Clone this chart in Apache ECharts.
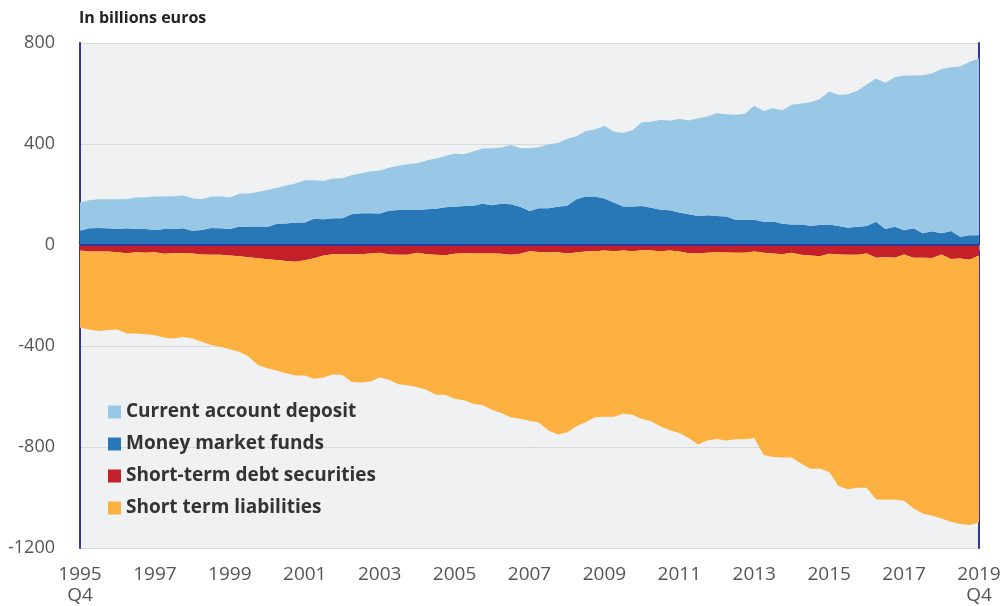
<!DOCTYPE html>
<html>
<head>
<meta charset="utf-8">
<script src="https://cdn.jsdelivr.net/npm/echarts@6/dist/echarts.min.js"></script>
<style>
  html, body { margin: 0; padding: 0; background: #fff; }
  #main { width: 1005px; height: 606px; }
</style>
</head>
<body>
<div id="main"></div>
<script>
// quarters 1995Q4 .. 2019Q4
var quarters = [];
for (var y = 1995; y <= 2019; y++) {
  for (var q = 1; q <= 4; q++) {
    if (y === 1995 && q < 4) continue;
    quarters.push(y + 'Q' + q);
  }
}

// assets (positive side)
var moneyMarketFunds = [
  56, 66, 67, 66, 63, 66, 63, 63, 59, 63, 63, 66, 56, 59, 67, 66, 63, 73, 71, 71,
  71, 84, 85, 89, 89, 104, 102, 106, 106, 122, 126, 126, 125, 136, 139, 139, 139, 142, 144, 150,
  151, 154, 155, 163, 157, 163, 161, 151, 135, 146, 146, 151, 155, 181, 192, 192, 184, 168, 152, 152,
  154, 148, 140, 138, 129, 122, 115, 118, 115, 113, 100, 100, 100, 92, 93, 84, 81, 81, 76, 79,
  81, 75, 68, 72, 75, 92, 63, 72, 58, 66, 47, 54, 47, 55, 33, 39, 39
];
var currentAccount = [
  112, 111, 114, 115, 118, 116, 125, 126, 133, 129, 130, 130, 129, 122, 125, 126, 125, 130, 133, 139,
  147, 142, 151, 155, 167, 152, 151, 157, 158, 154, 158, 165, 170, 170, 175, 181, 185, 193, 199, 202,
  211, 205, 215, 219, 226, 223, 235, 233, 248, 241, 252, 253, 265, 250, 259, 265, 288, 281, 292, 302,
  332, 340, 356, 354, 371, 371, 387, 391, 407, 405, 416, 420, 451, 439, 449, 450, 474, 479, 489, 499,
  527, 519, 529, 539, 561, 567, 580, 592, 613, 605, 625, 626, 649, 649, 674, 687, 700
];

// liabilities (negative side)
var debtSecurities = [
  -22, -26, -26, -26, -29, -33, -29, -31, -29, -35, -33, -33, -34, -38, -39, -39, -42, -45, -49, -52,
  -56, -59, -63, -66, -60, -52, -42, -37, -38, -37, -37, -34, -31, -38, -39, -39, -31, -37, -39, -41,
  -35, -33, -34, -34, -34, -35, -39, -35, -25, -28, -30, -29, -34, -30, -26, -25, -22, -25, -22, -25,
  -21, -22, -25, -22, -26, -33, -34, -31, -29, -30, -31, -31, -26, -31, -34, -37, -31, -39, -42, -45,
  -35, -38, -39, -39, -34, -50, -49, -50, -38, -50, -50, -51, -38, -55, -53, -58, -42
];
var shortTermLiabilities = [
  -306, -309, -315, -311, -306, -317, -321, -322, -328, -332, -337, -331, -336, -345, -357, -364, -371, -378, -393, -423,
  -432, -438, -445, -451, -457, -478, -483, -476, -476, -506, -508, -507, -494, -496, -512, -516, -532, -536, -554, -552,
  -574, -582, -595, -601, -618, -630, -643, -653, -671, -675, -704, -721, -709, -688, -676, -657, -658, -655, -646, -647,
  -668, -676, -694, -712, -719, -731, -756, -743, -739, -744, -738, -738, -738, -801, -806, -805, -811, -826, -844, -840,
  -864, -916, -928, -922, -927, -957, -960, -958, -975, -993, -1013, -1021, -1045, -1041, -1052, -1051, -1057
];

var yTicks = { min: -1200, max: 800, step: 400 };

var myChart = echarts.init(document.getElementById('main'));

var fontFamily = '"Open Sans", "DejaVu Sans", sans-serif';
var frameColor = '#34349a';

var option = {
  animation: false,
  textStyle: { fontFamily: fontFamily },
  title: {
    text: 'In billions euros',
    left: 79,
    top: 10,
    padding: 0,
    textStyle: { fontSize: 16, fontWeight: 'bold', color: '#222', fontFamily: fontFamily }
  },
  legend: {
    orient: 'vertical',
    left: 108,
    top: 401,
    padding: 0,
    itemWidth: 13,
    itemHeight: 13,
    itemGap: 10,
    icon: 'rect',
    textStyle: { fontSize: 19, fontWeight: 'bold', color: '#333', lineHeight: 22 },
    data: ['Current account deposit', 'Money market funds', 'Short-term debt securities', 'Short term liabilities']
  },
  grid: {
    left: 80,
    right: 26,
    top: 43,
    bottom: 55,
    show: true,
    backgroundColor: '#f0f1f3',
    borderWidth: 0
  },
  xAxis: {
    type: 'category',
    data: quarters,
    boundaryGap: false,
    axisLine: { lineStyle: { color: '#d0d0d0', width: 1 } },
    axisTick: { interval: 7, length: 5, lineStyle: { color: '#999' } },
    axisLabel: {
      interval: 7,
      fontSize: 19,
      color: '#555',
      margin: 16,
      lineHeight: 21,
      formatter: function (v, i) {
        var yr = v.slice(0, 4);
        if (i === 0 || i === quarters.length - 1) return yr + '\nQ4';
        return yr;
      }
    },
    splitLine: { show: false }
  },
  yAxis: [{
    type: 'value',
    min: yTicks.min,
    max: yTicks.max,
    interval: yTicks.step,
    axisLine: { show: true, lineStyle: { color: frameColor, width: 2 } },
    axisTick: { show: false },
    axisLabel: {
      fontSize: 18,
      color: '#555',
      margin: 25,
      formatter: function (v) { return String(v); }
    },
    splitLine: { lineStyle: { color: '#d9d9d9', width: 1 } }
  }, {
    // right frame line only
    type: 'value',
    position: 'right',
    min: yTicks.min,
    max: yTicks.max,
    interval: yTicks.step,
    axisLine: { show: true, lineStyle: { color: frameColor, width: 2 } },
    axisTick: { show: false },
    axisLabel: { show: false },
    splitLine: { show: false }
  }],
  series: [{
    name: 'Money market funds',
    type: 'line',
    stack: 'pos',
    data: moneyMarketFunds,
    symbol: 'none',
    lineStyle: { width: 0 },
    areaStyle: { color: '#2878b8', opacity: 1 },
    itemStyle: { color: '#2878b8' }
  }, {
    name: 'Current account deposit',
    type: 'line',
    stack: 'pos',
    data: currentAccount,
    symbol: 'none',
    lineStyle: { width: 0 },
    areaStyle: { color: '#98c8e6', opacity: 1 },
    itemStyle: { color: '#98c8e6' }
  }, {
    name: 'Short-term debt securities',
    type: 'line',
    stack: 'neg',
    data: debtSecurities,
    symbol: 'none',
    lineStyle: { width: 0 },
    areaStyle: { color: '#c4202a', opacity: 1 },
    itemStyle: { color: '#c4202a' }
  }, {
    name: 'Short term liabilities',
    type: 'line',
    stack: 'neg',
    data: shortTermLiabilities,
    symbol: 'none',
    lineStyle: { width: 0 },
    areaStyle: { color: '#fbb040', opacity: 1 },
    itemStyle: { color: '#fbb040' },
    // zero line
    markLine: {
      silent: true,
      symbol: 'none',
      label: { show: false },
      lineStyle: { color: frameColor, width: 2, type: 'solid' },
      data: [{ yAxis: 0 }]
    }
  }]
};

myChart.setOption(option);
</script>
</body>
</html>
